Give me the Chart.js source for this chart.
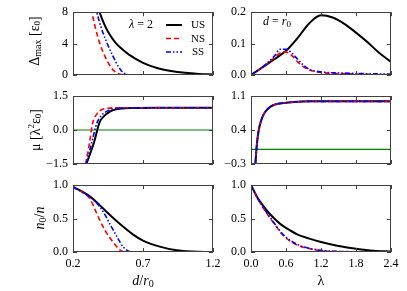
<!DOCTYPE html>
<html>
<head>
<meta charset="utf-8">
<script src="https://cdn.jsdelivr.net/npm/chart.js@4.4.0/dist/chart.umd.min.js"></script>
<style>
  html, body { margin: 0; padding: 0; background: #fff; }
  #wrap { position: relative; width: 407px; height: 291px; }
  #wrap canvas { position: absolute; left: 0; top: 0; }
</style>
</head>
<body>
<div id="wrap">
  <canvas id="gapD" width="407" height="291"></canvas>
  <canvas id="gapL" width="407" height="291"></canvas>
  <canvas id="muD" width="407" height="291"></canvas>
  <canvas id="muL" width="407" height="291"></canvas>
  <canvas id="condD" width="407" height="291"></canvas>
  <canvas id="condL" width="407" height="291"></canvas>
</div>
<script>
// ---- tick values / labels ----
const dTicks = [0.2, 0.7, 1.2];
const dTickLabels = ["0.2", "0.7", "1.2"];
const lamTicks = [0, 0.6, 1.2, 1.8, 2.4];
const lamTickLabels = ["0.0", "0.6", "1.2", "1.8", "2.4"];
const gapDTicks = [0, 4, 8];
const gapDTickLabels = ["0", "4", "8"];
const gapLTicks = [0, 0.1, 0.2];
const gapLTickLabels = ["0.0", "0.1", "0.2"];
const muDTicks = [-1.5, 0, 1.5];
const muDTickLabels = ["\u22121.5", "0.0", "1.5"];
const muLTicks = [-0.3, 0.4, 1.1];
const muLTickLabels = ["\u22120.3", "0.4", "1.1"];
const condTicks = [0, 0.5, 1];
const condTickLabels = ["0.0", "0.5", "1.0"];

const seriesNames = ["US", "NS", "SS"];

// ---- gap vs d/r0 (lambda = 2) ----
const gapD_x_US = [0.37, 0.39, 0.42, 0.45, 0.5, 0.55, 0.6, 0.7, 0.8, 0.9, 1.0, 1.1, 1.2];
const gapD_y_US = [9.2, 8, 6.6, 5.5, 4.2, 3.3, 2.6, 1.55, 0.9, 0.52, 0.28, 0.14, 0.07];
const gapD_x_NS = [0.32, 0.335, 0.36, 0.39, 0.43, 0.47, 0.5, 0.53, 0.56, 0.6, 0.8, 1.0, 1.2];
const gapD_y_NS = [9.5, 8, 6, 4.1, 2.3, 1.0, 0.42, 0.12, 0.02, 0, 0, 0, 0];
const gapD_x_SS = [0.355, 0.37, 0.4, 0.44, 0.48, 0.52, 0.55, 0.58, 0.62, 0.7, 0.9, 1.2];
const gapD_y_SS = [9.2, 8, 6.1, 4.2, 2.6, 1.2, 0.45, 0.1, 0.01, 0, 0, 0];

// ---- gap vs lambda (d = r0) ----
const gapL_x_US = [0, 0.2, 0.4, 0.6, 0.8, 1.0, 1.2, 1.4, 1.6, 1.8, 2.0, 2.2, 2.4];
const gapL_y_US = [0, 0.025, 0.05, 0.077, 0.118, 0.165, 0.19, 0.183, 0.163, 0.135, 0.104, 0.07, 0.042];
const gapL_x_NS = [0, 0.2, 0.4, 0.5, 0.6, 0.7, 0.8, 0.9, 1.0, 1.2, 1.6, 2.0, 2.4];
const gapL_y_NS = [0, 0.025, 0.055, 0.07, 0.073, 0.062, 0.042, 0.026, 0.016, 0.008, 0.004, 0.002, 0.001];
const gapL_x_SS = [0, 0.2, 0.4, 0.5, 0.6, 0.7, 0.8, 0.9, 1.0, 1.2, 1.6, 2.0, 2.4];
const gapL_y_SS = [0, 0.026, 0.06, 0.082, 0.082, 0.07, 0.05, 0.031, 0.018, 0.01, 0.006, 0.004, 0.003];

// ---- mu vs d/r0 ----
const muD_x_US = [0.295, 0.35, 0.39, 0.42, 0.46, 0.5, 0.55, 0.6, 0.8, 1.0, 1.2];
const muD_y_US = [-1.5, -0.55, 0.35, 0.6, 0.8, 0.9, 0.95, 0.97, 0.98, 0.98, 0.98];
const muD_x_NS = [0.29, 0.32, 0.34, 0.37, 0.4, 0.45, 0.5, 0.8, 1.2];
const muD_y_NS = [-1.5, -0.5, 0.3, 0.7, 0.88, 0.96, 0.98, 0.98, 0.98];
const muD_x_SS = [0.295, 0.34, 0.37, 0.4, 0.44, 0.48, 0.55, 0.8, 1.2];
const muD_y_SS = [-1.5, -0.4, 0.3, 0.62, 0.82, 0.92, 0.97, 0.98, 0.98];
const muD_x_zero = [0.2, 1.2];
const muD_y_zero = [0, 0];

// ---- mu vs lambda ----
const muL_x = [0.075, 0.1, 0.13, 0.17, 0.22, 0.3, 0.4, 0.6, 0.8, 1.0, 1.6, 2.4];
const muL_y_US = [-0.3, 0.1, 0.38, 0.58, 0.73, 0.85, 0.92, 0.96, 0.98, 0.99, 0.99, 0.99];
const muL_y_NS = [-0.3, 0.1, 0.38, 0.58, 0.73, 0.85, 0.92, 0.96, 0.98, 0.99, 0.99, 0.99];
const muL_y_SS = [-0.3, 0.1, 0.38, 0.58, 0.73, 0.85, 0.92, 0.96, 0.98, 0.99, 0.99, 0.99];
const muL_x_zero = [0, 2.4];
const muL_y_zero = [0, 0];

// ---- condensate fraction vs d/r0 ----
const condD_x_US = [0.2, 0.26, 0.3, 0.35, 0.39, 0.46, 0.54, 0.63, 0.7, 0.82, 0.94, 1.05, 1.2];
const condD_y_US = [0.97, 0.91, 0.86, 0.78, 0.7, 0.56, 0.41, 0.26, 0.17, 0.08, 0.025, 0.006, 0];
const condD_x_NS = [0.2, 0.26, 0.32, 0.36, 0.39, 0.43, 0.46, 0.49, 0.52, 0.55, 0.6, 0.9, 1.2];
const condD_y_NS = [0.97, 0.9, 0.8, 0.62, 0.48, 0.32, 0.22, 0.14, 0.06, 0.01, 0, 0, 0];
const condD_x_SS = [0.2, 0.26, 0.32, 0.36, 0.39, 0.43, 0.46, 0.5, 0.535, 0.56, 0.59, 0.62, 0.9, 1.2];
const condD_y_SS = [0.97, 0.9, 0.82, 0.75, 0.68, 0.55, 0.43, 0.28, 0.15, 0.07, 0.02, 0, 0, 0];

// ---- condensate fraction vs lambda ----
const condL_x = [0, 0.1, 0.2, 0.3, 0.4, 0.5, 0.6, 0.8, 1.0, 1.2, 1.5, 1.8, 2.1, 2.4];
const condL_y_US = [1.0, 0.83, 0.7, 0.59, 0.5, 0.42, 0.36, 0.26, 0.2, 0.15, 0.09, 0.05, 0.02, 0.007];
const condL_y_NS = [1.0, 0.82, 0.67, 0.54, 0.42, 0.3, 0.21, 0.1, 0.05, 0.02, 0.006, 0.002, 0, 0];
const condL_y_SS = [1.0, 0.82, 0.68, 0.55, 0.43, 0.31, 0.22, 0.11, 0.055, 0.025, 0.008, 0.003, 0.001, 0];

const styles = {
  US: { borderColor: "#000000", borderWidth: 2, borderDash: [] },
  NS: { borderColor: "#ff0000", borderWidth: 1.6, borderDash: [5, 3] },
  SS: { borderColor: "#0000ff", borderWidth: 1.6, borderDash: [5, 2, 1.5, 2, 1.5, 2] },
  zero: { borderColor: "#008000", borderWidth: 1.2, borderDash: [] }
};

const SERIF = "'Liberation Serif', 'DejaVu Serif', serif";
const Y_AXIS_W = 40, X_AXIS_H = 24;

// extra drawing (titles, legend) per canvas id
const extras = {};

function series(name, xs, ys, order) {
  const st = styles[name];
  return {
    label: name,
    data: xs.map((x, i) => ({ x: x, y: ys[i] })),
    borderColor: st.borderColor,
    borderWidth: st.borderWidth,
    borderDash: st.borderDash,
    pointRadius: 0,
    fill: false,
    cubicInterpolationMode: "monotone",
    clip: 0,
    order: order
  };
}

function richText(ctx, parts, x, y, angle) {
  ctx.save();
  ctx.translate(x, y);
  ctx.rotate(angle || 0);
  let w = 0;
  parts.forEach(p => { ctx.font = p.font; w += ctx.measureText(p.t).width; });
  let cx = -w / 2;
  ctx.textBaseline = "middle";
  ctx.textAlign = "left";
  ctx.fillStyle = "#000";
  parts.forEach(p => {
    ctx.font = p.font;
    ctx.fillText(p.t, cx, p.dy || 0);
    cx += ctx.measureText(p.t).width;
  });
  ctx.restore();
}

const framePlugin = {
  id: "frame",
  afterDatasetsDraw(chart) {
    const ctx = chart.ctx;
    const a = chart.chartArea;
    const x = chart.scales.x, y = chart.scales.y;
    ctx.save();
    ctx.strokeStyle = "#404040";
    ctx.lineWidth = 1;
    ctx.setLineDash([]);
    ctx.strokeRect(Math.round(a.left) + 0.5, Math.round(a.top) + 0.5,
      Math.round(a.right - a.left) - 1, Math.round(a.bottom - a.top) - 1);
    ctx.beginPath();
    x.ticks.forEach(t => {
      const p = Math.round(x.getPixelForValue(t.value)) + 0.5;
      ctx.moveTo(p, a.bottom); ctx.lineTo(p, a.bottom - 4);
      ctx.moveTo(p, a.top); ctx.lineTo(p, a.top + 4);
    });
    y.ticks.forEach(t => {
      const p = Math.round(y.getPixelForValue(t.value)) + 0.5;
      ctx.moveTo(a.left, p); ctx.lineTo(a.left + 4, p);
      ctx.moveTo(a.right, p); ctx.lineTo(a.right - 4, p);
    });
    ctx.stroke();
    ctx.restore();
    const extra = extras[chart.canvas.id];
    if (extra) extra(ctx, chart);
  }
};

function makePanel(id, box, xr, yr, datasets, extra) {
  const [L, T, R, B] = box;
  extras[id] = extra;
  return new Chart(document.getElementById(id), {
    type: "line",
    data: { datasets: datasets },
    plugins: [framePlugin],
    options: {
      responsive: false,
      animation: false,
      layout: { padding: { left: L - Y_AXIS_W, top: T, right: 407 - R, bottom: 291 - B - X_AXIS_H } },
      plugins: {
        legend: { display: false },
        tooltip: { enabled: false }
      },
      scales: {
        x: {
          type: "linear", min: xr.min, max: xr.max,
          grid: { display: false, drawTicks: false },
          border: { display: false },
          afterBuildTicks: s => { s.ticks = xr.ticks.map(v => ({ value: v })); },
          afterFit: s => { s.height = X_AXIS_H; },
          ticks: {
            display: !!xr.labels,
            autoSkip: false, maxRotation: 0, padding: 5,
            color: "#000", font: { family: SERIF, size: 12 },
            callback: (v, i) => xr.labels ? xr.labels[i] : ""
          }
        },
        y: {
          type: "linear", min: yr.min, max: yr.max,
          grid: { display: false, drawTicks: false },
          border: { display: false },
          afterBuildTicks: s => { s.ticks = yr.ticks.map(v => ({ value: v })); },
          afterFit: s => { s.width = Y_AXIS_W; },
          ticks: {
            autoSkip: false, padding: 5,
            color: "#000", font: { family: SERIF, size: 12 },
            callback: (v, i) => yr.labels[i]
          }
        }
      }
    }
  });
}

const LEFT = [73, 213], RIGHT = [251, 391];
const ROWS = [[7, 75], [96, 164], [185, 252]];

const xD = { min: 0.2, max: 1.2, ticks: dTicks };
const xDlab = { min: 0.2, max: 1.2, ticks: dTicks, labels: dTickLabels };
const xL = { min: 0, max: 2.4, ticks: lamTicks };
const xLlab = { min: 0, max: 2.4, ticks: lamTicks, labels: lamTickLabels };

// top left
makePanel("gapD", [LEFT[0], ROWS[0][0], LEFT[1], ROWS[0][1]], xD,
  { min: 0, max: 8, ticks: gapDTicks, labels: gapDTickLabels },
  [series("US", gapD_x_US, gapD_y_US, 3), series("NS", gapD_x_NS, gapD_y_NS, 2), series("SS", gapD_x_SS, gapD_y_SS, 1)],
  (ctx, chart) => {
    richText(ctx, [
      { t: "\u0394", font: "14px " + SERIF },
      { t: "max", font: "10px " + SERIF, dy: 3 },
      { t: " [", font: "14px " + SERIF },
      { t: "\u03b5", font: "14px " + SERIF },
      { t: "0", font: "9px " + SERIF, dy: 3 },
      { t: "]", font: "14px " + SERIF }
    ], 35, 41, -Math.PI / 2);
    richText(ctx, [
      { t: "\u03bb", font: "italic 12px " + SERIF },
      { t: " = 2", font: "12px " + SERIF }
    ], 141, 25);
    const rows = [25, 38.5, 52];
    seriesNames.forEach((n, i) => {
      const st = styles[n];
      ctx.save();
      ctx.strokeStyle = st.borderColor;
      ctx.lineWidth = st.borderWidth;
      ctx.setLineDash(st.borderDash);
      ctx.beginPath();
      ctx.moveTo(166, rows[i]); ctx.lineTo(182, rows[i]);
      ctx.stroke();
      ctx.restore();
      richText(ctx, [{ t: n, font: "11px " + SERIF }], 198, rows[i] + 0.5);
    });
  });

// top right
makePanel("gapL", [RIGHT[0], ROWS[0][0], RIGHT[1], ROWS[0][1]], xL,
  { min: 0, max: 0.2, ticks: gapLTicks, labels: gapLTickLabels },
  [series("US", gapL_x_US, gapL_y_US, 3), series("NS", gapL_x_NS, gapL_y_NS, 2), series("SS", gapL_x_SS, gapL_y_SS, 1)],
  (ctx) => {
    richText(ctx, [
      { t: "d", font: "italic 12px " + SERIF },
      { t: " = ", font: "12px " + SERIF },
      { t: "r", font: "italic 12px " + SERIF },
      { t: "0", font: "9px " + SERIF, dy: 3 }
    ], 277, 22);
  });

// middle left
makePanel("muD", [LEFT[0], ROWS[1][0], LEFT[1], ROWS[1][1]], xD,
  { min: -1.5, max: 1.5, ticks: muDTicks, labels: muDTickLabels },
  [series("zero", muD_x_zero, muD_y_zero, 4),
   series("US", muD_x_US, muD_y_US, 3), series("NS", muD_x_NS, muD_y_NS, 2), series("SS", muD_x_SS, muD_y_SS, 1)],
  (ctx) => {
    richText(ctx, [
      { t: "\u03bc [\u03bb", font: "14px " + SERIF },
      { t: "2", font: "9px " + SERIF, dy: -4 },
      { t: "\u03b5", font: "14px " + SERIF },
      { t: "0", font: "9px " + SERIF, dy: 3 },
      { t: "]", font: "14px " + SERIF }
    ], 36, 130, -Math.PI / 2);
  });

// middle right
makePanel("muL", [RIGHT[0], ROWS[1][0], RIGHT[1], ROWS[1][1]], xL,
  { min: -0.3, max: 1.1, ticks: muLTicks, labels: muLTickLabels },
  [series("zero", muL_x_zero, muL_y_zero, 4),
   series("US", muL_x, muL_y_US, 3), series("NS", muL_x, muL_y_NS, 2), series("SS", muL_x, muL_y_SS, 1)]);

// bottom left
makePanel("condD", [LEFT[0], ROWS[2][0], LEFT[1], ROWS[2][1]], xDlab,
  { min: 0, max: 1, ticks: condTicks, labels: condTickLabels },
  [series("US", condD_x_US, condD_y_US, 3), series("NS", condD_x_NS, condD_y_NS, 2), series("SS", condD_x_SS, condD_y_SS, 1)],
  (ctx) => {
    richText(ctx, [
      { t: "n", font: "italic 14px " + SERIF },
      { t: "0", font: "10px " + SERIF, dy: 3 },
      { t: "/", font: "14px " + SERIF },
      { t: "n", font: "italic 14px " + SERIF }
    ], 40, 218, -Math.PI / 2);
    richText(ctx, [
      { t: "d", font: "italic 14px " + SERIF },
      { t: "/", font: "14px " + SERIF },
      { t: "r", font: "italic 14px " + SERIF },
      { t: "0", font: "10px " + SERIF, dy: 3 }
    ], 143, 281);
  });

// bottom right
makePanel("condL", [RIGHT[0], ROWS[2][0], RIGHT[1], ROWS[2][1]], xLlab,
  { min: 0, max: 1, ticks: condTicks, labels: condTickLabels },
  [series("US", condL_x, condL_y_US, 3), series("NS", condL_x, condL_y_NS, 2), series("SS", condL_x, condL_y_SS, 1)],
  (ctx) => {
    richText(ctx, [{ t: "\u03bb", font: "14px " + SERIF }], 321, 281);
  });
</script>
</body>
</html>
